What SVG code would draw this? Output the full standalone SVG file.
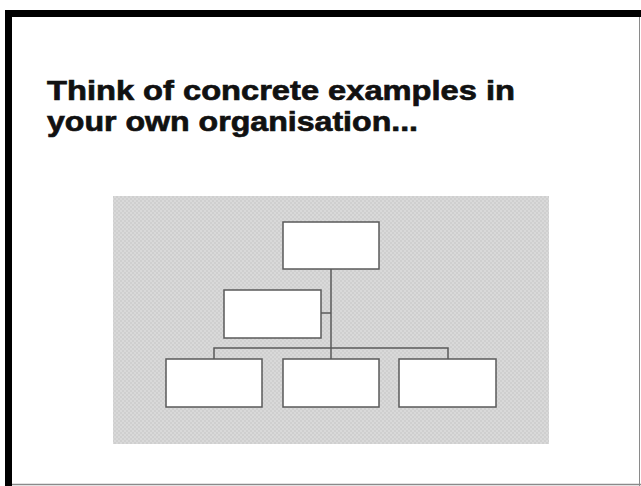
<svg xmlns="http://www.w3.org/2000/svg" width="641" height="486" viewBox="0 0 641 486">
  <style>
    .title { font-family: "Liberation Sans", Arial, sans-serif; font-weight: bold; font-size: 28px; fill: #111; stroke: #111; stroke-width: 0.7; }
    .box { fill: #ffffff; stroke: #5a5a5a; stroke-width: 1.5; }
    .link { fill: none; stroke: #5a5a5a; stroke-width: 1.5; }
  </style>
  <defs>
    <!-- fine checker texture for the panel behind the chart -->
    <pattern id="texture" width="4" height="4" patternUnits="userSpaceOnUse">
      <rect width="4" height="4" fill="#d9d9d9"/>
      <rect x="0" y="0" width="2" height="2" fill="#cfcfcf"/>
      <rect x="2" y="2" width="2" height="2" fill="#cfcfcf"/>
    </pattern>
  </defs>

  <!-- page and frame -->
  <rect width="641" height="486" fill="#ffffff"/>
  <rect x="5" y="10" width="636" height="7" fill="#000000"/>
  <rect x="5" y="10" width="7" height="476" fill="#000000"/>
  <line x1="639.5" y1="17" x2="639.5" y2="486" stroke="#8a8a8a" stroke-width="1"/>
  <line x1="12" y1="484.5" x2="641" y2="484.5" stroke="#8a8a8a" stroke-width="1.5"/>

  <!-- heading -->
  <text class="title" x="47" y="100" textLength="468" lengthAdjust="spacingAndGlyphs">Think of concrete examples in</text>
  <text class="title" x="47" y="131" textLength="371" lengthAdjust="spacingAndGlyphs">your own organisation...</text>

  <!-- chart panel -->
  <rect x="113" y="196" width="436" height="248" fill="url(#texture)"/>

  <g id="connectors">
    <line class="link" x1="331" y1="269" x2="331" y2="359"/>
    <line class="link" x1="321" y1="313" x2="331" y2="313"/>
    <polyline class="link" points="214,359 214,348 448,348 448,359"/>
  </g>

  <g id="node-top"><rect class="box" x="283" y="222" width="96" height="47"/></g>
  <g id="node-assistant"><rect class="box" x="224" y="290" width="97" height="48"/></g>
  <g id="node-left"><rect class="box" x="166" y="359" width="96" height="48"/></g>
  <g id="node-middle"><rect class="box" x="283" y="359" width="96" height="48"/></g>
  <g id="node-right"><rect class="box" x="399" y="359" width="97" height="48"/></g>
</svg>
